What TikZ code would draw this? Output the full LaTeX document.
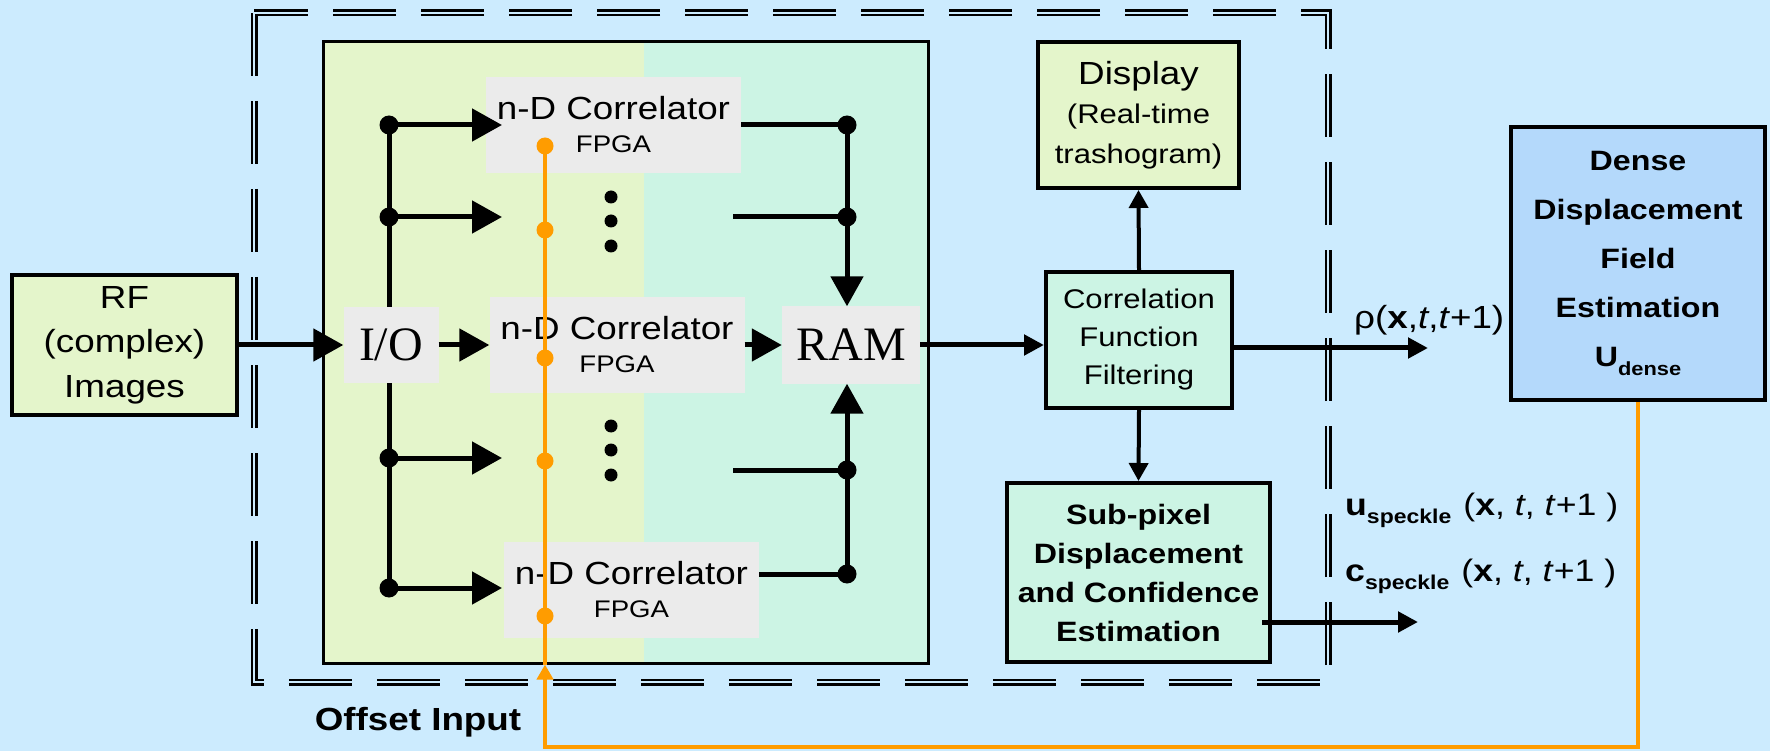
\documentclass[tikz,border=0pt]{standalone}
\usepackage{fontspec}
\setmainfont{Liberation Sans}[FakeStretch=1.15]
\newfontfamily\serifchip{Liberation Serif}
\usetikzlibrary{arrows.meta,positioning}
\definecolor{sky_blue}{HTML}{CCEBFE}
\definecolor{pale_green}{HTML}{E4F5CB}
\definecolor{pale_mint}{HTML}{CCF4E4}
\definecolor{dense_blue}{HTML}{B4D9FB}
\definecolor{chip_gray}{HTML}{EBEBEB}
\definecolor{offset_orange}{HTML}{FF9C00}

\begin{document}
\begin{tikzpicture}[
	    x=1pt, y=-1pt,
	    box/.style={rectangle, draw, line width=4pt, align=center, inner sep=0pt},
	    chip/.style={rectangle, fill=chip_gray, inner sep=0pt, align=center},
	    corrbox/.style={chip, minimum width=255pt, minimum height=96pt, font=\fontsize{24}{33}\selectfont},
	    bigline/.style={-{Triangle[length=30pt,width=32pt]}, line width=5pt},
	    plainline/.style={line width=5pt},
	    medline/.style={-{Triangle[length=20pt,width=20pt]}, line width=5pt},
	    thinline/.style={-{Triangle[length=18pt,width=19pt]}, line width=4pt},
	    offsetline/.style={draw=offset_orange, line width=4.5pt},
	    doubledash/.style={draw=black, double=sky_blue, double distance=2pt, line width=2.5pt, dash pattern=on 63pt off 25pt},
	]
        \path[use as bounding box, fill=sky_blue] (0,0) rectangle (1770,751);

        \draw[doubledash] (254,13) rectangle (1328,682);

        \node[draw, line width=3pt, fill=pale_mint, minimum width=605pt, minimum height=621pt, inner sep=0pt,
              path picture={\fill[pale_green] (path picture bounding box.north west) rectangle ([xshift=321pt]path picture bounding box.south west);}] (board) at (625.5,352.5) {};

        \node[box, fill=pale_green, minimum width=225pt, minimum height=140pt, font=\fontsize{32}{44.5}\selectfont] (rfimages) at (124.5,345) {RF\\(complex)\\Images};

        \node[chip, minimum width=95pt, minimum height=76pt, font=\serifchip\fontsize{48}{50}\selectfont] (iobox) at (391,345) {I/O};
        \node[corrbox] (corrtop) at (613.5,125) {{\fontsize{32}{33}\selectfont n-D Correlator}\\FPGA};
        \node[corrbox] (corrmid) at (617,345) {{\fontsize{32}{33}\selectfont n-D Correlator}\\FPGA};
        \node[corrbox] (corrbot) at (631.5,589.5) {{\fontsize{32}{33}\selectfont n-D Correlator}\\FPGA};
        \node[chip, minimum width=138pt, minimum height=77pt, font=\serifchip\fontsize{48}{50}\selectfont] (ram) at (851,345) {RAM};

        \node[box, fill=pale_green, minimum width=201pt, minimum height=146pt, font=\fontsize{27}{39.5}\selectfont] (display) at (1138.5,115) {{\fontsize{32}{39.5}\selectfont Display}\\(Real-time\\trashogram)};
        \node[box, fill=pale_mint, minimum width=186pt, minimum height=136pt, font=\fontsize{27}{38}\selectfont] (corrfilt) at (1139,340) {Correlation\\Function\\Filtering};
        \node[box, fill=pale_mint, minimum width=263pt, minimum height=179pt, font=\fontsize{28}{39}\selectfont\bfseries] (subpix) at (1138.5,572.5) {Sub-pixel\\Displacement\\and Confidence\\Estimation};
        \node[box, fill=dense_blue, minimum width=254pt, minimum height=273pt, font=\fontsize{28}{49}\selectfont\bfseries] (dense) at (1638,263.5) {Dense\\Displacement\\Field\\Estimation\\U\raisebox{-9pt}{\fontsize{19}{19}\selectfont\bfseries dense}};

        \node[anchor=base west, inner sep=0pt, font=\fontsize{32}{36}\selectfont] (rholabel) at (1354,329) {ρ(\textbf{x},\textit{t},\textit{t}+1)};
        \node[anchor=base west, inner sep=0pt, font=\fontsize{31}{36}\selectfont] (ulabel) at (1345,515) {\textbf{u}\raisebox{-8pt}{\fontsize{20}{20}\selectfont\bfseries speckle}\hspace{12pt}(\textbf{x}, \textit{t}, \textit{t}+1 )};
        \node[anchor=base west, inner sep=0pt, font=\fontsize{31}{36}\selectfont] (clabel) at (1345,581) {\textbf{c}\raisebox{-8pt}{\fontsize{20}{20}\selectfont\bfseries speckle}\hspace{12pt}(\textbf{x}, \textit{t}, \textit{t}+1 )};
        \node[font=\fontsize{32}{36}\selectfont\bfseries] (offsetlabel) at (418,722) {Offset Input};

        % bus taps left and right
        \coordinate (tapA) at (389,125);
        \coordinate (tapB) at (389,217);
        \coordinate (tapC) at (389,458);
        \coordinate (tapD) at (389,588);
        \coordinate (inB) at (502,217);
        \coordinate (inC) at (502,458);
        \coordinate (tapE) at (847,125);
        \coordinate (tapF) at (847,217);
        \coordinate (tapG) at (847,470);
        \coordinate (tapH) at (847,574);
        \coordinate (outF) at (733,217);
        \coordinate (outG) at (733,470);
        \coordinate (rhoout) at (1428,348);
        \coordinate (speckleout) at (1418,622);
        \coordinate (offsetbase) at (545,747);
        \coordinate (offsettop) at (545,146);

        \draw [plainline] (tapA) -- (tapA |- iobox.north);
        \draw [plainline] (tapA |- iobox.south) -- (tapD);
        \draw [bigline] (tapA) -- (tapA -| inB);
        \draw [bigline] (tapB) -- (inB);
        \draw [bigline] (tapC) -- (inC);
        \draw [bigline] (tapD) -- (tapD -| inC);

        \draw [plainline] (corrtop.east) -- (tapE);
        \draw [plainline] (outF) -- (tapF);
        \draw [plainline] (outG) -- (tapG);
        \draw [plainline] (tapH -| corrbot.east) -- (tapH);
        \draw [bigline] (tapE) -- (tapE |- ram.north);
        \draw [bigline] (tapH) -- (tapH |- ram.south);

        \foreach \tap in {tapA,tapB,tapC,tapD,tapE,tapF,tapG,tapH}
            \fill (\tap) circle (9.5pt);
        \foreach \y in {197,221,246,426,450,475}
            \fill (611,\y) circle (6.5pt);

        \draw [bigline] (rfimages.east) -- (iobox.west);
        \draw [bigline] (iobox.east) -- (corrmid.west);
        \draw [bigline] (corrmid.east) -- (ram.west);
        \draw [medline] (ram.east) -- (ram.east -| corrfilt.west);
        \draw [thinline] (corrfilt.north) -- (display.south);
        \draw [thinline] (corrfilt.south) -- (subpix.north);
        \draw [medline] (corrfilt.east |- rhoout) -- (rhoout);
        \draw [medline] ([xshift=-10pt]subpix.east |- speckleout) -- (speckleout);

        \draw [offsetline, -{Triangle[length=15pt,width=16pt]}] (dense.south) |- (offsetbase) -- (offsetbase |- board.south);
        \draw [offsetline] (offsetbase |- board.south) -- (offsettop);
        \foreach \y in {146,230,358,461,616}
            \fill[offset_orange] (545,\y) circle (8.5pt);
	\end{tikzpicture}
\end{document}
